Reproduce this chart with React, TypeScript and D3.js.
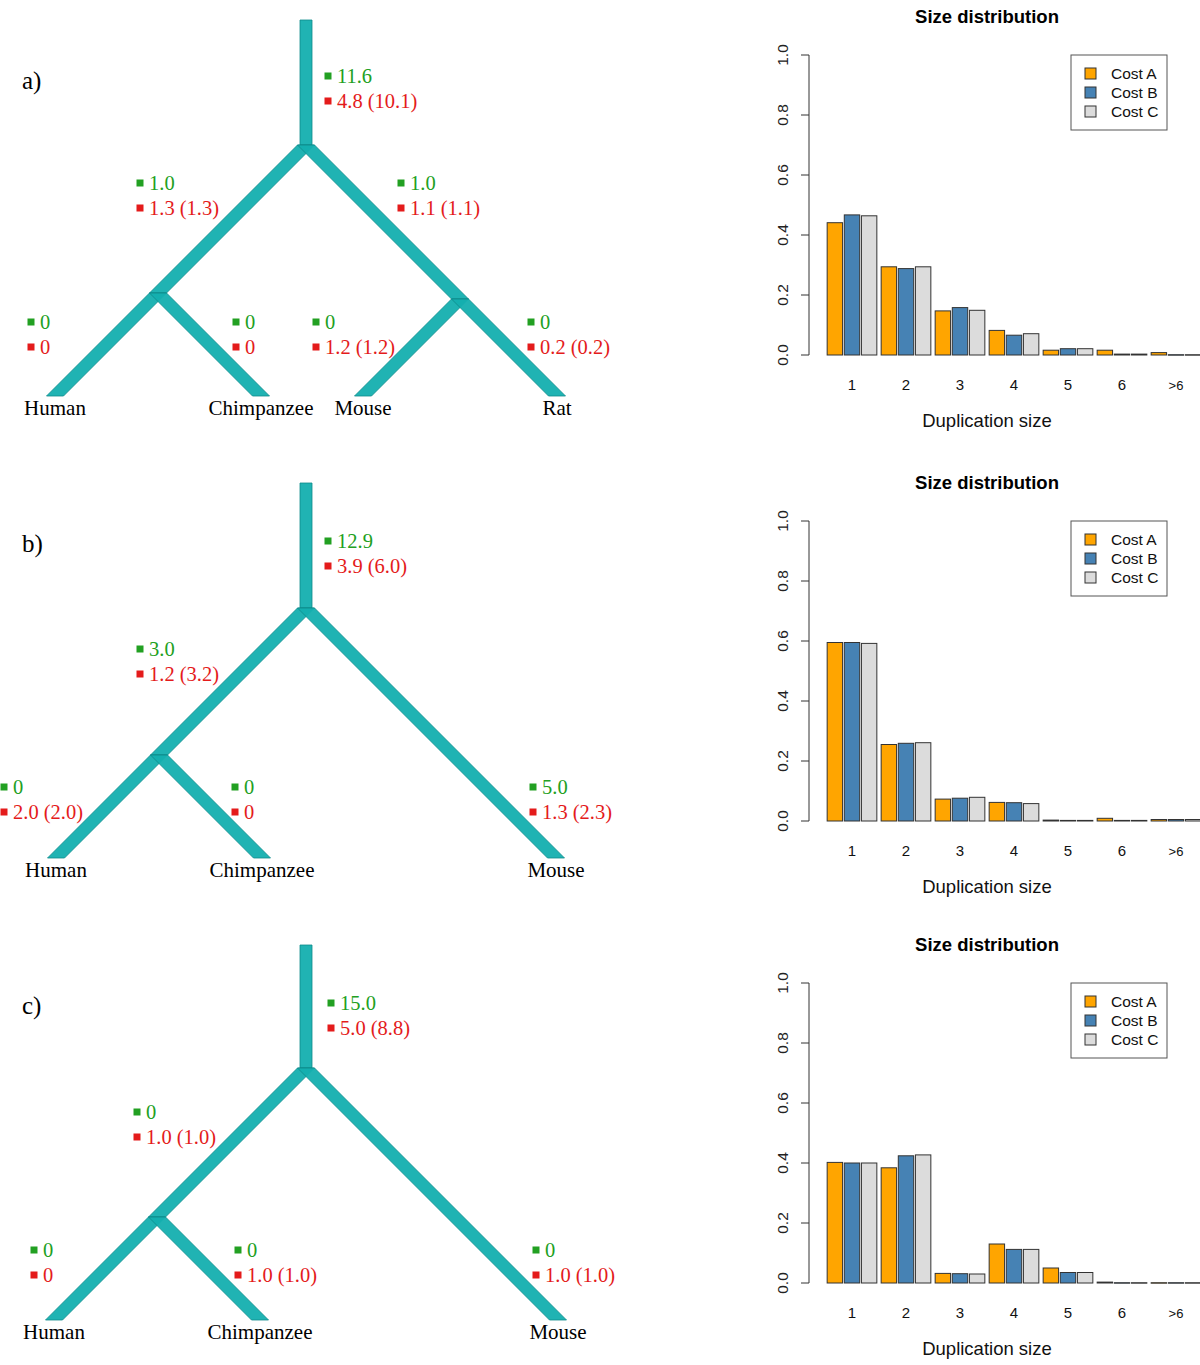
import React from "react";
import * as d3 from "d3";

// ---------- bar chart data ----------
const CATEGORIES = ["1", "2", "3", "4", "5", "6", ">6"];
const SERIES = ["Cost A", "Cost B", "Cost C"];
const SERIES_COLORS = ["#FFA500", "#4682B4", "#DCDCDC"];
const Y_TICKS = [0, 0.2, 0.4, 0.6, 0.8, 1.0];

const A_COST_A = [0.441, 0.294, 0.147, 0.082, 0.016, 0.016, 0.008];
const A_COST_B = [0.467, 0.288, 0.158, 0.066, 0.021, 0.003, 0.001];
const A_COST_C = [0.464, 0.294, 0.149, 0.071, 0.021, 0.003, 0.001];

const B_COST_A = [0.595, 0.255, 0.073, 0.062, 0.003, 0.009, 0.005];
const B_COST_B = [0.595, 0.259, 0.076, 0.061, 0.002, 0.002, 0.005];
const B_COST_C = [0.592, 0.261, 0.079, 0.058, 0.002, 0.002, 0.005];

const C_COST_A = [0.402, 0.384, 0.032, 0.130, 0.050, 0.003, 0.001];
const C_COST_B = [0.400, 0.424, 0.031, 0.112, 0.035, 0.001, 0.001];
const C_COST_C = [0.400, 0.427, 0.030, 0.112, 0.035, 0.001, 0.001];

// ---------- tree data (branch lengths) ----------
type TNode = { name?: string; len: number; children?: TNode[] };
const TREE_A: TNode = {
  len: 125,
  children: [
    { len: 148, children: [{ name: "Human", len: 103 }, { name: "Chimpanzee", len: 103 }] },
    { len: 154, children: [{ name: "Mouse", len: 97 }, { name: "Rat", len: 97 }] },
  ],
};
const TREE_B: TNode = {
  len: 125,
  children: [
    { len: 147, children: [{ name: "Human", len: 103 }, { name: "Chimpanzee", len: 103 }] },
    { name: "Mouse", len: 250 },
  ],
};
const TREE_C: TNode = {
  len: 123,
  children: [
    { len: 149, children: [{ name: "Human", len: 103 }, { name: "Chimpanzee", len: 103 }] },
    { name: "Mouse", len: 252 },
  ],
};

// gains / losses in preorder of branches
const GAINS_A = ["11.6", "1.0", "0", "0", "1.0", "0", "0"];
const LOSSES_A = ["4.8 (10.1)", "1.3 (1.3)", "0", "0", "1.1 (1.1)", "1.2 (1.2)", "0.2 (0.2)"];
const GAINS_B = ["12.9", "3.0", "0", "0", "5.0"];
const LOSSES_B = ["3.9 (6.0)", "1.2 (3.2)", "2.0 (2.0)", "0", "1.3 (2.3)"];
const GAINS_C = ["15.0", "0", "0", "0", "0"];
const LOSSES_C = ["5.0 (8.8)", "1.0 (1.0)", "0", "1.0 (1.0)", "1.0 (1.0)"];

// label placement offsets relative to each branch's lower node
const OFFS_A = [[22, -69], [-18, -110], [-24, -74], [-25, -74], [-59, -116], [-47, -74], [-26, -74]];
const OFFS_B = [[22, -67], [-19, -106], [-52, -71], [-27, -71], [-23, -71]];
const OFFS_C = [[25, -65], [-20, -105], [-20, -70], [-22, -70], [-22, -70]];

const PANELS = [
  { letter: "a)", top: 20, tree: TREE_A, gains: GAINS_A, losses: LOSSES_A, offs: OFFS_A, bars: [A_COST_A, A_COST_B, A_COST_C], zeroY: 355 },
  { letter: "b)", top: 483, tree: TREE_B, gains: GAINS_B, losses: LOSSES_B, offs: OFFS_B, bars: [B_COST_A, B_COST_B, B_COST_C], zeroY: 821 },
  { letter: "c)", top: 945, tree: TREE_C, gains: GAINS_C, losses: LOSSES_C, offs: OFFS_C, bars: [C_COST_A, C_COST_B, C_COST_C], zeroY: 1283 },
];

const SERIF = "'Liberation Serif', 'Times New Roman', serif";
const SANS = "'Liberation Sans', Arial, Helvetica, sans-serif";
const TEAL = "#14AFAF";
const TEAL_EDGE = "#0C8A8A";
const GREEN = "#22A022";
const RED = "#E41B1B";

type Branch = { x0: number; y0: number; x1: number; y1: number; vertical: boolean; name?: string };

function layoutTree(tree: TNode, top: number, rootX: number): Branch[] {
  const out: Branch[] = [];
  const unit = d3.scaleLinear().domain([0, 1]).range([0, 1]);
  const rootY = top + unit(tree.len);
  out.push({ x0: rootX, y0: top, x1: rootX, y1: rootY, vertical: true });
  const walk = (node: TNode, x: number, y: number) => {
    (node.children || []).forEach((ch, i) => {
      const dir = i === 0 ? -1 : 1;
      const cx = x + dir * unit(ch.len);
      const cy = y + unit(ch.len);
      out.push({ x0: x, y0: y, x1: cx, y1: cy, vertical: false, name: ch.name });
      walk(ch, cx, cy);
    });
  };
  walk(tree, rootX, rootY);
  return out;
}

function Tree({ panel }: { panel: (typeof PANELS)[number] }) {
  const branches = layoutTree(panel.tree, panel.top, 306);
  const hwV = 6;
  const hwD = 8.5;
  return (
    <g>
      <text x={22} y={panel.top + 69} fontFamily={SERIF} fontSize={25} fill="#000">
        {panel.letter}
      </text>
      {branches.map((b, i) => {
        const hw = b.vertical ? hwV : hwD;
        const pts = [
          [b.x0 - hw, b.y0],
          [b.x0 + hw, b.y0],
          [b.x1 + hw, b.y1],
          [b.x1 - hw, b.y1],
        ];
        return (
          <polygon
            key={"br" + i}
            points={pts.map((p) => p.join(",")).join(" ")}
            fill={TEAL}
            fillOpacity={0.95}
            stroke={TEAL_EDGE}
            strokeWidth={0.8}
          />
        );
      })}
      {branches.map((b, i) =>
        b.name ? (
          <text key={"nm" + i} x={b.x1} y={b.y1 + 19} textAnchor="middle" fontFamily={SERIF} fontSize={21} fill="#000">
            {b.name}
          </text>
        ) : null
      )}
      {branches.map((b, i) => {
        const [dx, dy] = panel.offs[i];
        const sx = b.x1 + dx;
        const gy = b.y1 + dy;
        const ry = gy + 25;
        return (
          <g key={"an" + i}>
            <rect x={sx - 3.5} y={gy - 3.5} width={7} height={7} fill={GREEN} />
            <text x={sx + 9} y={gy + 7} fontFamily={SERIF} fontSize={20.5} fill={GREEN}>
              {panel.gains[i]}
            </text>
            <rect x={sx - 3.5} y={ry - 3.5} width={7} height={7} fill={RED} />
            <text x={sx + 9} y={ry + 7} fontFamily={SERIF} fontSize={20.5} fill={RED}>
              {panel.losses[i]}
            </text>
          </g>
        );
      })}
    </g>
  );
}

function BarChart({ panel }: { panel: (typeof PANELS)[number] }) {
  const zero = panel.zeroY;
  const y = d3.scaleLinear().domain([0, 1]).range([zero, zero - 300]);
  const x = d3.scaleBand<string>().domain(CATEGORIES).range([825, 825 + 54 * 7]).paddingInner(0.08).paddingOuter(0.04);
  const xi = d3.scaleBand<string>().domain(SERIES).range([0, x.bandwidth()]).paddingInner(0.1);
  const fmt = d3.format(".1f");
  const axisX = 809;
  const cx = 987;
  const legTop = y(1);
  return (
    <g>
      <text x={cx} y={zero - 332} textAnchor="middle" fontFamily={SANS} fontWeight="bold" fontSize={18.5} fill="#000">
        Size distribution
      </text>
      {SERIES.map((s, si) =>
        CATEGORIES.map((c, ci) => {
          const v = panel.bars[si][ci];
          const x0 = (x(c) as number) + (xi(s) as number);
          return (
            <rect
              key={s + c}
              x={x0}
              y={y(v)}
              width={xi.bandwidth()}
              height={Math.max(0.5, y(0) - y(v))}
              fill={SERIES_COLORS[si]}
              stroke="#333"
              strokeWidth={1}
            />
          );
        })
      )}
      <line x1={axisX} x2={axisX} y1={y(0)} y2={y(1)} stroke="#333" strokeWidth={1} />
      {Y_TICKS.map((t) => (
        <g key={t}>
          <line x1={axisX - 8} x2={axisX} y1={y(t)} y2={y(t)} stroke="#333" strokeWidth={1} />
          <text
            transform={`translate(${axisX - 21},${y(t)}) rotate(-90)`}
            textAnchor="middle"
            fontFamily={SANS}
            fontSize={15.5}
            fill="#222"
          >
            {fmt(t)}
          </text>
        </g>
      ))}
      {CATEGORIES.map((c) => (
        <text
          key={c}
          x={(x(c) as number) + x.bandwidth() / 2}
          y={zero + 35}
          textAnchor="middle"
          fontFamily={SANS}
          fontSize={c === ">6" ? 13 : 15}
          fill="#111"
        >
          {c}
        </text>
      ))}
      <text x={cx} y={zero + 72} textAnchor="middle" fontFamily={SANS} fontSize={18.5} fill="#111">
        Duplication size
      </text>
      <rect x={1071} y={legTop} width={96} height={75} fill="#fff" stroke="#555" strokeWidth={1} />
      {SERIES.map((s, si) => (
        <g key={s}>
          <rect x={1085} y={legTop + 13 + si * 19} width={11} height={11} fill={SERIES_COLORS[si]} stroke="#333" strokeWidth={1} />
          <text x={1111} y={legTop + 24 + si * 19} fontFamily={SANS} fontSize={15.5} fill="#111">
            {s}
          </text>
        </g>
      ))}
    </g>
  );
}

export default function App() {
  return (
    <svg
      width={1200}
      height={1365}
      viewBox="0 0 1200 1365"
      style={{ position: "absolute", left: 0, top: 0, display: "block", background: "#fff" }}
    >
      <rect x={0} y={0} width={1200} height={1365} fill="#fff" />
      {PANELS.map((p) => (
        <g key={p.letter}>
          <Tree panel={p} />
          <BarChart panel={p} />
        </g>
      ))}
    </svg>
  );
}
